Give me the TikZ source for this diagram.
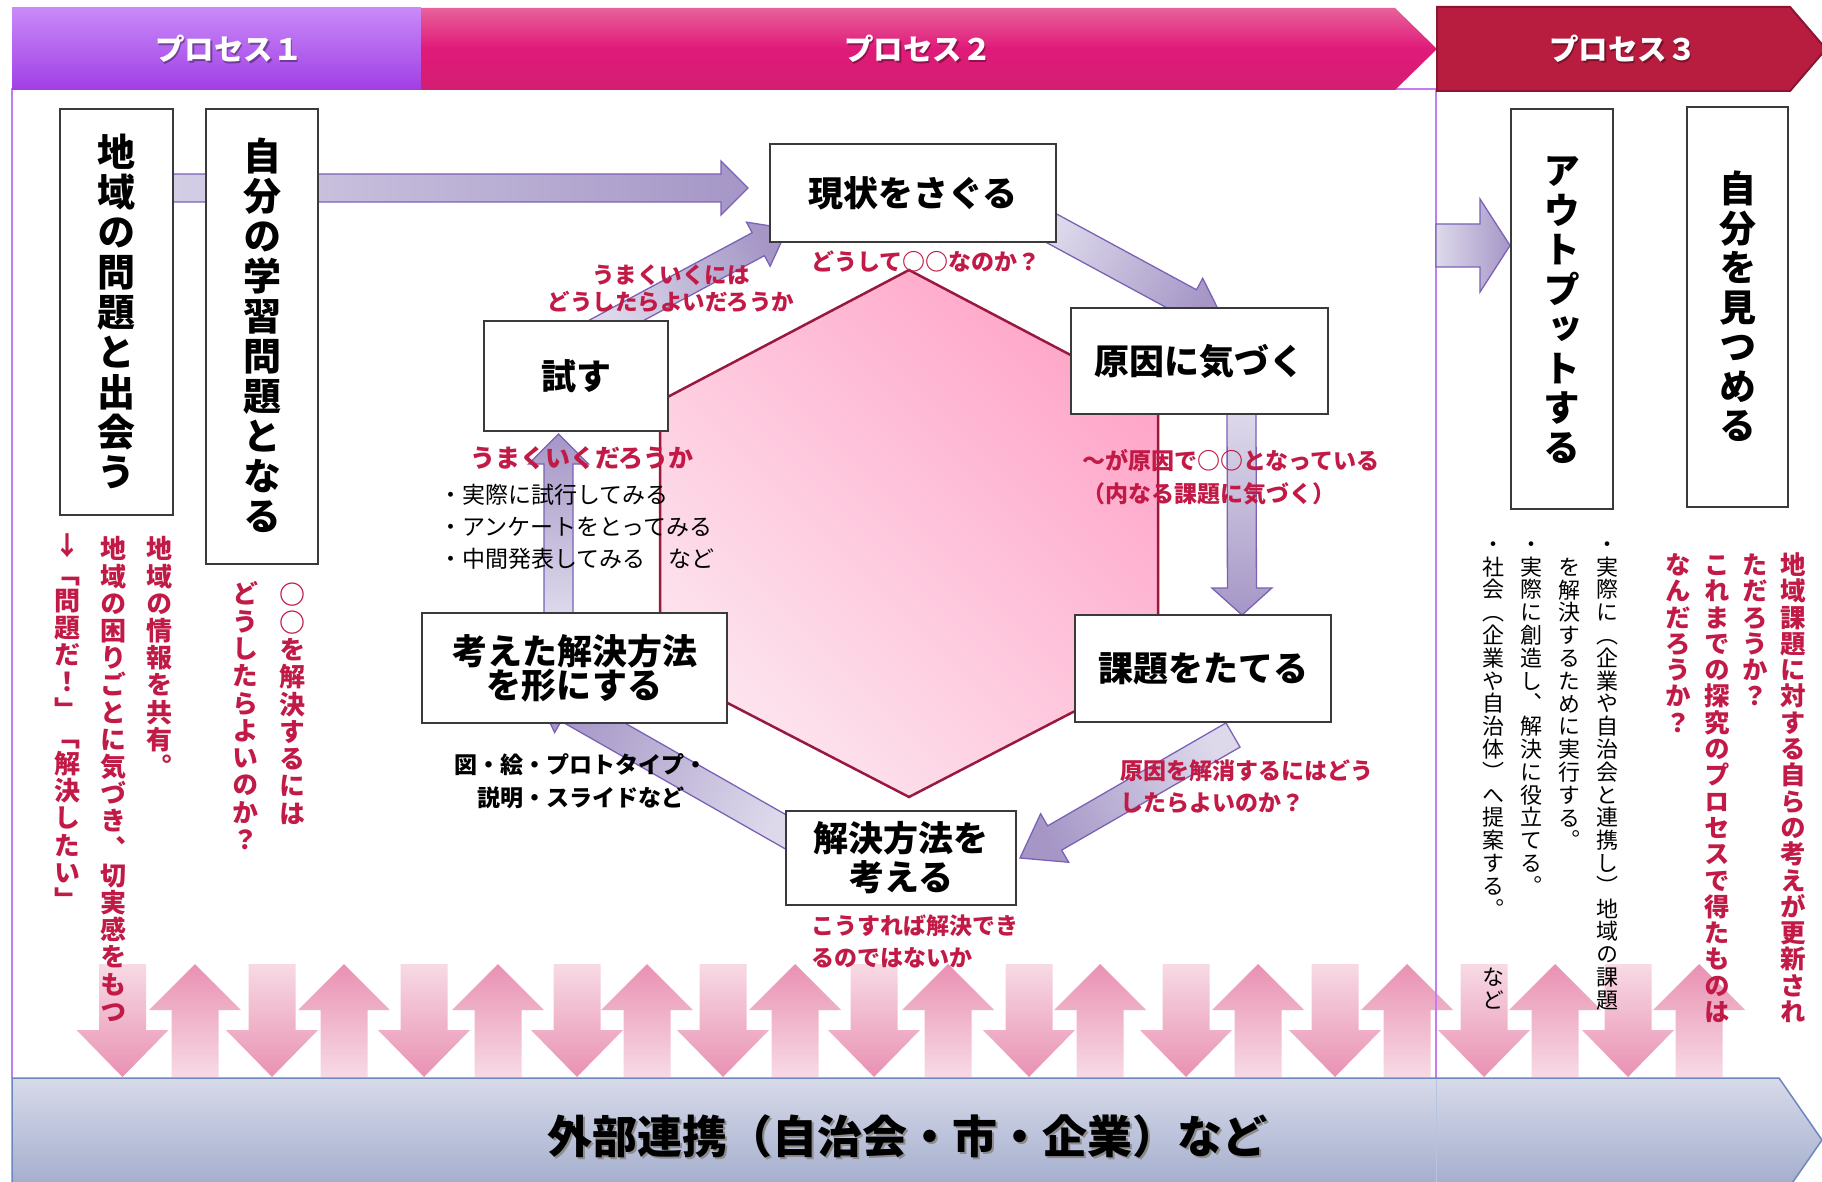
\documentclass[tikz,border=0pt]{standalone}
\usepackage{fontspec}
\setmainfont{Noto Sans CJK JP}
\newfontfamily\jpv{Noto Sans CJK JP}[RawFeature={+vert}]
\usetikzlibrary{calc}
\pgfdeclarelayer{back}
\pgfsetlayers{back,main}

\definecolor{pborder}{HTML}{7B62B6}
\definecolor{plight}{HTML}{DDD9EB}
\definecolor{pdark}{HTML}{A596C6}
\definecolor{redtxt}{HTML}{C21A46}
\definecolor{hexline}{HTML}{99183D}
\definecolor{hexA}{HTML}{FDE5EF}
\definecolor{hexB}{HTML}{FFA6C8}
\definecolor{pinkL}{HTML}{F7DAE5}
\definecolor{pinkD}{HTML}{E991B2}
\definecolor{framec}{HTML}{C07EF0}
\definecolor{boxline}{HTML}{3A3A3A}
\definecolor{bandA}{HTML}{D7DAE9}
\definecolor{bandB}{HTML}{9CA7C9}
\definecolor{bandline}{HTML}{6E86BE}
\definecolor{p1top}{HTML}{C98AF8}
\definecolor{p1bot}{HTML}{A03EE6}
\definecolor{p2top}{HTML}{E8619B}
\definecolor{p2mid}{HTML}{E01A79}
\definecolor{p2bot}{HTML}{D31E73}
\definecolor{p3fill}{HTML}{B81D40}
\definecolor{p3line}{HTML}{8A1632}

\newcommand\fsz[2]{\fontsize{#1}{#2}\selectfont}
\def\VTend{\VTend}
\def\VTloop#1{\ifx#1\VTend\else\hbox to 1em{\hss#1\hss\vrule height .88em depth .12em width 0pt}\expandafter\VTloop\fi}
\newcommand\VT[2]{\vbox{\baselineskip=#1\relax\lineskiplimit=-\maxdimen\lineskip=0pt\VTloop#2\VTend}}

\newcommand\blockarrow[6]{%
  \coordinate (BAh) at ($(#2)!#5!(#1)$);
  \path[parrow,#6] ($(#1)!#3!90:(#2)$) -- ($(BAh)!#3!90:(#2)$) -- ($(BAh)!#4!90:(#2)$) -- (#2) -- ($(BAh)!#4!-90:(#2)$) -- ($(BAh)!#3!-90:(#2)$) -- ($(#1)!#3!-90:(#2)$) -- cycle;}

\begin{document}
\begin{tikzpicture}[x=1pt,y=-1pt,
  every node/.style={inner sep=0pt, outer sep=0pt},
  boxh/.style={draw=boxline, line width=1.4pt, fill=white, align=center, font=\bfseries\fsz{35}{40}},
  boxv/.style={draw=boxline, line width=1.4pt, fill=white, font=\jpv\bfseries\fsz{38}{40}},
  redlbl/.style={text=redtxt, font=\bfseries\fsz{23}{32}},
  vred/.style={anchor=north, text=redtxt, font=\jpv\bfseries\fsz{26}{27}},
  vblk/.style={anchor=north, text=black, font=\jpv\fsz{22}{23}},
  htxt/.style={text=white, font=\bfseries\fsz{29.5}{32}},
  parrow/.style={draw=pborder, line width=1.3pt, line join=miter}]

\useasboundingbox (0,0) rectangle (1822,1182);

% ---------- boxes ----------
\node[boxh, minimum width=286pt, minimum height=98pt] (genjo) at (913,193) {現状をさぐる};
\node[boxh, minimum width=257pt, minimum height=106pt] (genin) at (1199.5,361) {原因に気づく};
\node[boxh, minimum width=184pt, minimum height=110pt] (tamesu) at (576,376) {試す};
\node[boxh, minimum width=256pt, minimum height=107pt] (kadai) at (1203,668.5) {課題をたてる};
\node[boxh, minimum width=305pt, minimum height=110pt, font=\bfseries\fsz{35}{33}] (katachi) at (574.5,668) {考えた解決方法\\を形にする};
\node[boxh, minimum width=230pt, minimum height=94pt, font=\bfseries\fsz{35}{39}] (kaiketsu) at (901,858) {解決方法を\\考える};

\node[boxv, minimum width=113pt, minimum height=406pt] (boxA) at (116.5,312) {\VT{40pt}{地域の問題と出会う}};
\node[boxv, minimum width=112pt, minimum height=455pt] (boxB) at (262,336.5) {\VT{40pt}{自分の学習問題となる}};
\node[boxv, minimum width=102pt, minimum height=400pt, font=\jpv\bfseries\fsz{37}{40}] (boxOut) at (1562,309) {\VT{39.5pt}{アウトプットする}};
\node[boxv, minimum width=101pt, minimum height=400pt, font=\jpv\bfseries\fsz{37}{40}] (boxSelf) at (1737.5,307) {\VT{39.5pt}{自分を見つめる}};

% ---------- background layer ----------
\begin{pgfonlayer}{back}
\fill[white] (0,0) rectangle (1822,1182);
% pink two-way arrows
\foreach \c in {122.5,272,424,577,723,874,1029,1186,1335,1484,1628} {
  \path[top color=pinkL, bottom color=pinkD] (\c-23.5,964) -- (\c+23.5,964) -- (\c+23.5,1030) -- (\c+46,1030) -- (\c,1077) -- (\c-46,1030) -- (\c-23.5,1030) -- cycle;}
\foreach \c in {195,344,498,647,795,948,1100,1258,1407,1555,1699} {
  \path[top color=pinkD, bottom color=pinkL] (\c,964) -- (\c+46,1010) -- (\c+23.5,1010) -- (\c+23.5,1077) -- (\c-23.5,1077) -- (\c-23.5,1010) -- (\c-46,1010) -- cycle;}
% frame
\draw[framec, line width=1.5pt] (12,1078) -- (12,89) -- (1436,89) -- (1436,1078);
% hexagon
\path[draw=hexline, line width=2.5pt, top color=hexB, bottom color=hexA, shading angle=-45]
  (909,270) -- (1158,401) -- (1158,668) -- (909,797) -- (660,668) -- (660,401) -- cycle;
% connector end points
\coordinate (a1s) at ($(boxA.west)+(0,-124)$);
\coordinate (a1e) at ($(genjo.west)+(-22,-5)$);
\coordinate (a2s) at ($(tamesu.center)+(19.8,-44.6)$);
\coordinate (a2e) at ($(genjo.south west)+(17.4,-13.4)$);
\coordinate (a3s) at ($(genjo.south east)+(-16,-20)$);
\coordinate (a3e) at ($(genin.north)+(25,14)$);
\coordinate (a4s) at ($(genin.south)+(42,0)$);
\coordinate (a4e) at ($(kadai.north)+(39,0)$);
\coordinate (a5s) at ($(kadai.south)+(30,13)$);
\coordinate (a5e) at ($(kaiketsu.east)+(4,0)$);
\coordinate (a6s) at ($(kaiketsu.west)+(14,-18)$);
\coordinate (a6e) at ($(katachi.south)+(-40.8,-34.6)$);
\coordinate (a7s) at ($(katachi.north)+(-16,1)$);
\coordinate (a7e) at ($(tamesu.south)+(-17.5,3)$);
\coordinate (a8s) at ($(boxOut.west)+(-75,-63.5)$);
\coordinate (a8e) at ($(boxOut.west)+(-1,-63.5)$);
% purple block arrows
\blockarrow{a1s}{a1e}{14pt}{27pt}{27pt}{top color=pdark, bottom color=plight, shading angle=-90}
\blockarrow{a2s}{a2e}{13pt}{25pt}{33pt}{top color=pdark, bottom color=plight, shading angle=-62}
\blockarrow{a3s}{a3e}{15pt}{28pt}{40pt}{top color=pdark, bottom color=plight, shading angle=-118}
\blockarrow{a4s}{a4e}{14.5pt}{30pt}{27pt}{top color=pdark, bottom color=plight, shading angle=180}
\blockarrow{a5s}{a5e}{14pt}{28pt}{40pt}{top color=pdark, bottom color=plight, shading angle=120}
\blockarrow{a6s}{a6e}{15pt}{28pt}{40pt}{top color=pdark, bottom color=plight, shading angle=60}
\blockarrow{a7s}{a7e}{14.5pt}{30pt}{30pt}{top color=pdark, bottom color=plight, shading angle=0}
\blockarrow{a8s}{a8e}{21.5pt}{46.5pt}{30pt}{top color=pdark, bottom color=plight, shading angle=-90}
\end{pgfonlayer}

% ---------- header bands ----------
\path[top color=p1top, bottom color=p1bot] (12,8) rectangle (421,90);
\path[top color=p2top, bottom color=p2bot, middle color=p2mid] (421,8) -- (1395,8) -- (1437,49) -- (1395,90) -- (421,90) -- cycle;
\path[fill=p3fill, draw=p3line, line width=2pt] (1437,7) -- (1790,7) -- (1826,49) -- (1790,91) -- (1437,91) -- cycle;
\node[htxt, text=black, opacity=0.35] (p1s) at (230.5,50.5) {プロセス１};
\node[htxt] (p1) at (229,49) {プロセス１};
\node[htxt, text=black, opacity=0.35] (p2s) at (919.5,50.5) {プロセス２};
\node[htxt] (p2) at (918,49) {プロセス２};
\node[htxt, text=black, opacity=0.35] (p3s) at (1624.5,50.5) {プロセス３};
\node[htxt] (p3) at (1623,49) {プロセス３};

% ---------- bottom band ----------
\begin{scope}
\clip (0,0) rectangle (1822,1182);
\path[top color=bandA, bottom color=bandB, draw=bandline, line width=1.5pt] (12,1078) -- (1779,1078) -- (1822,1140) -- (1779,1202) -- (12,1202) -- cycle;
\draw[bandline!50, line width=0.8pt] (1436,1079) -- (1436,1182);
\end{scope}
\node[font=\bfseries\fsz{45}{50}, text=black!45] (exts) at (909,1138) {外部連携（自治会・市・企業）など};
\node[font=\bfseries\fsz{45}{50}] (ext) at (907,1136) {外部連携（自治会・市・企業）など};

% ---------- red labels ----------
\node[redlbl] (l1) at (926,261) {どうして○○なのか？};
\node[redlbl, align=center, font=\bfseries\fsz{22.5}{27}] (l2) at (671,288.5) {うまくいくには\\どうしたらよいだろうか};
\node[redlbl, font=\bfseries\fsz{25}{30}] (l3) at (582,458) {うまくいくだろうか};
\node[redlbl, align=left, anchor=west, font=\bfseries\fsz{23}{33}] (l4) at (1082,477.5) {～が原因で○○となっている\\（内なる課題に気づく）};
\node[redlbl, align=left, anchor=west] (l5) at (1120,787) {原因を解消するにはどう\\したらよいのか？};
\node[redlbl, align=left, anchor=west] (l6) at (811,941) {こうすれば解決でき\\るのではないか};

% ---------- black labels ----------
\node[anchor=west, align=left, font=\fsz{23}{32}] (list) at (439,527) {・実際に試行してみる\\・アンケートをとってみる\\・中間発表してみる　など};
\node[align=center, font=\bfseries\fsz{23}{33}] (zu) at (581,781.5) {図・絵・プロトタイプ・\\説明・スライドなど};

% ---------- vertical texts, left ----------
\node[vred] (v1) at (159,536) {\VT{27.2pt}{地域の情報を共有。}};
\node[vred] (v2) at (113,536) {\VT{27.2pt}{地域の困りごとに気づき、切実感をもつ}};
\node[vred] (v3) at (67,533) {\VT{27.2pt}{↓「問題だ！」「解決したい」}};
\node[vred] (v4) at (292,582) {\VT{27.3pt}{○○を解決するには}};
\node[vred] (v5) at (245,581) {\VT{27.3pt}{どうしたらよいのか？}};

% ---------- vertical texts, right ----------
\node[vred, font=\jpv\bfseries\fsz{25.5}{27}] (r1) at (1793,552) {\VT{26.3pt}{地域課題に対する自らの考えが更新され}};
\node[vred, font=\jpv\bfseries\fsz{25.5}{27}] (r2) at (1755,552) {\VT{26.3pt}{ただろうか？}};
\node[vred, font=\jpv\bfseries\fsz{25.5}{27}] (r3) at (1717,552) {\VT{26.3pt}{これまでの探究のプロセスで得たものは}};
\node[vred, font=\jpv\bfseries\fsz{25.5}{27}] (r4) at (1678,552) {\VT{26.3pt}{なんだろうか？}};
\node[vblk] (b1) at (1607,533) {\VT{22.8pt}{・実際に（企業や自治会と連携し）地域の課題}};
\node[vblk] (b2) at (1569,556) {\VT{22.8pt}{を解決するために実行する。}};
\node[vblk] (b3) at (1531,533) {\VT{22.8pt}{・実際に創造し、解決に役立てる。}};
\node[vblk] (b4) at (1493,533) {\VT{22.8pt}{・社会（企業や自治体）へ提案する。　　など}};
\end{tikzpicture}
\end{document}
